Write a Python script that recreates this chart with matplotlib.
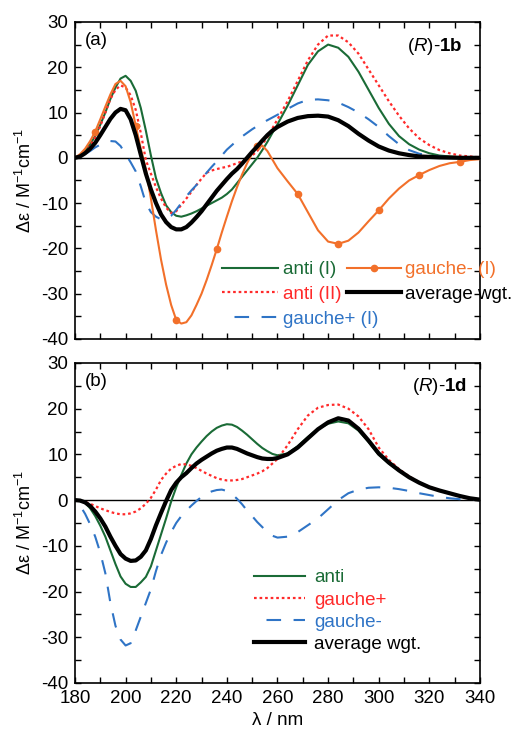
import numpy as np
import matplotlib
matplotlib.use("Agg")
import matplotlib.pyplot as plt
from matplotlib.ticker import MultipleLocator

plt.rcParams['font.family'] = ['Liberation Sans', 'DejaVu Sans']
plt.rcParams['mathtext.fontset'] = 'custom'
plt.rcParams['mathtext.rm'] = 'Liberation Sans'
plt.rcParams['mathtext.it'] = 'Liberation Sans:italic'
plt.rcParams['mathtext.bf'] = 'Liberation Sans:bold'
plt.rcParams['axes.unicode_minus'] = False

# wavelength grid: 2 nm steps up to 258 nm, 4 nm steps from 260 to 340 nm
wavelength = list(range(180, 260, 2)) + list(range(260, 341, 4))

# ---- panel (a): (R)-1b ----
a_anti_I = [0, 0.5, 1.5, 3, 4.8, 7.3, 10, 13, 15.5, 17.5, 18.1, 17, 14.8, 11, 6, 0.5,
            -4.5, -7.8, -10.5, -12, -12.8, -13, -12.7, -12.3, -11.8, -11.2, -10.6, -10,
            -9.4, -8.8, -8, -7, -5.6, -4.2, -2.8, -1.4, 0, 1.7, 3.5, 5.5,
            7.4, 11.5, 16, 20.5, 23.5, 25, 24.3, 22.3, 19, 15, 11, 7.5, 4.8, 3, 1.8, 1.0,
            0.5, 0.3, 0.15, 0.05, 0]
a_anti_II = [0, 0.4, 1.2, 2.6, 4.5, 7, 10, 13, 15, 16, 15.5, 13.8, 10.6, 5.5, -0.5, -3.5,
             -6.5, -9, -11, -12.2, -11.8, -10.4, -9, -7.5, -6, -4.6, -3.3, -2.8, -2.5,
             -2.2, -2, -1.6, -1.2, -0.8, -0.3, 0.5, 1.5, 3, 4.5, 6.5,
             8.5, 12.5, 17, 21.5, 25, 27, 27, 25.5, 23, 19.5, 16, 12.5, 9.3, 6.5, 4.3, 2.8,
             1.7, 1.0, 0.5, 0.3, 0.1]
a_gauche_plus = [0, 0.3, 0.8, 1.5, 2.3, 2.9, 3.4, 3.7, 3.6, 2.6, 0.8, -1, -3, -6.3, -10,
                 -12, -13, -13.6, -13.5, -12.8, -11.5, -10, -8.5, -7.2, -6, -4.6, -3.3, -2,
                 -0.8, 0.5, 1.8, 2.8, 3.8, 4.7, 5.5, 6.3, 7, 7.7, 8.3, 8.9,
                 9.5, 10.8, 12, 12.8, 12.9, 12.7, 12.2, 11.2, 10, 8.5, 6.8, 4.8, 3, 1.7, 0.9,
                 0.5, 0.3, 0.1, 0.05, 0, 0]
a_gauche_minus = [0, 0.8, 2, 3.7, 5.8, 8.5, 11.3, 14, 16.3, 17, 15.8, 12.3, 7.1, 2, -2.5,
                  -9, -16, -22.5, -28, -32.5, -35.8, -36.6, -36.3, -34.8, -32.5, -30, -27,
                  -23.7, -20.2, -16.5, -13, -9.6, -6.5, -3.7, -1.2, 1, 2.5, 2.7, 1.5, -0.4,
                  -2.3, -5.2, -8, -12, -16, -18.5, -19, -18.3, -16.5, -14, -11.6, -9, -6.8,
                  -5, -3.8, -2.7, -1.8, -1.2, -0.9, -0.5, -0.3]
a_marker_wl = [188, 204, 220, 236, 252, 268, 284, 300, 316, 332]
a_average = [0, 0.3, 1, 2, 3.3, 5, 6.8, 8.6, 10, 10.8, 10.5, 8.5, 5, 0.7, -3.5, -7, -10,
             -12.5, -14.2, -15.3, -15.8, -15.8, -15.3, -14.3, -13.1, -11.8, -10.3, -8.8,
             -7.3, -6, -4.7, -3.5, -2.5, -1.3, 0, 1.3, 2.5, 3.8, 5, 6,
             6.8, 8, 8.8, 9.2, 9.3, 9.1, 8.3, 7, 5.3, 3.8, 2.5, 1.6, 1.0, 0.6, 0.3, 0.2,
             0.1, 0.05, 0, 0, 0]

# ---- panel (b): (R)-1d ----
b_anti = [0, -0.2, -0.6, -1.8, -3.5, -5.6, -8, -11, -14, -16.7, -18.3, -19, -19, -18,
          -16.8, -14.5, -11, -7.5, -4, -0.3, 2.8, 5.5, 8, 10, 11.5, 12.8, 14, 15, 15.8,
          16.3, 16.6, 16.5, 16, 15.2, 14.3, 13.3, 12.3, 11.4, 10.7, 10.1,
          9.8, 10.2, 11.8, 13.8, 15.6, 16.7, 17.2, 16.8, 15.2, 12.7, 9.9, 8.0, 6.4, 5,
          3.8, 2.8, 2.1, 1.5, 0.9, 0.4, 0.1]
b_gauche_plus = [0, -0.1, -0.4, -0.8, -1.3, -1.8, -2.2, -2.6, -2.9, -3.1, -3.1, -2.9,
                 -2.5, -1.8, -0.8, 0.5, 2.3, 4.4, 5.8, 6.9, 7.5, 7.9, 7.8, 7.5, 7, 6.4,
                 5.8, 5.3, 4.8, 4.5, 4.3, 4.3, 4.4, 4.6, 5, 5.4, 5.8, 6.3, 7, 8,
                 9, 12, 15.5, 18.5, 20.2, 20.8, 20.9, 20, 18.3, 15.5, 11.5, 8.8, 6.8, 5.2,
                 3.9, 2.9, 2.1, 1.5, 0.9, 0.4, 0.1]
b_gauche_minus = [0, -1.2, -3, -5.3, -8, -11.5, -16, -22.5, -27.5, -30.5, -31.8, -31.3,
                  -28.5, -25.5, -22.5, -19.5, -15.5, -12, -9.3, -7, -5, -3.5, -2.3, -1.2,
                  -0.2, 0.7, 1.4, 1.9, 2.2, 2.3, 2, 1.3, 0.3, -0.9, -2.3, -3.5, -4.8, -5.9,
                  -7, -7.8,
                  -8.2, -8, -7, -5.5, -4, -2, 0, 1.5, 2.3, 2.7, 2.8, 2.7, 2.4, 2, 1.5, 1.1,
                  0.7, 0.4, 0.2, 0.1, 0]
b_average = [0, -0.1, -0.5, -1.3, -2.5, -4, -5.8, -8, -10, -11.8, -12.8, -13.3, -13.2,
             -12.4, -11, -8.5, -5.5, -2.8, -0.2, 2.2, 3.8, 5, 5.9, 7, 8, 8.8, 9.5, 10.2,
             10.8, 11.2, 11.5, 11.5, 11.2, 10.7, 10.2, 9.8, 9.4, 9.1, 9.0, 9.0,
             9.2, 10, 11.5, 13.5, 15.5, 17, 17.9, 17.4, 15.6, 13, 10.2, 8.2, 6.5, 5, 3.8,
             2.8, 2.1, 1.5, 0.9, 0.4, 0.1]

xticks = [180, 200, 220, 240, 260, 280, 300, 320, 340]
yticks = [30, 20, 10, 0, -10, -20, -30, -40]

GREEN = '#1a6b36'
RED = '#ff2a2a'
BLUE = '#2f74c6'
ORANGE = '#f2702a'
BLACK = '#000000'

FS = 13.5
DASH = (7, (7, 6))
DOT = (0, (1.2, 1.3))

fig = plt.figure(figsize=(5.16, 7.31), dpi=100)
ax1 = fig.add_axes([0.1453, 0.5363, 0.7849, 0.4337])
ax2 = fig.add_axes([0.1453, 0.0657, 0.7849, 0.4378])

for ax in (ax1, ax2):
    ax.set_xlim(180, 340)
    ax.set_ylim(-40, 30)
    ax.set_xticks(xticks)
    ax.set_yticks(yticks)
    ax.set_yticklabels([str(v) for v in yticks])
    ax.xaxis.set_minor_locator(MultipleLocator(10))
    ax.yaxis.set_minor_locator(MultipleLocator(5))
    ax.tick_params(which='both', direction='in', top=True, right=True,
                   length=4, width=1.0, labelsize=FS, pad=5)
    for s in ax.spines.values():
        s.set_linewidth(1.2)
    ax.axhline(0, color='black', lw=1.0, zorder=1)
    ax.set_ylabel('Δε / M$^{-1}$cm$^{-1}$', fontsize=FS - 0.5, labelpad=4)

ax1.tick_params(labelbottom=False)
ax2.set_xlabel('λ / nm', fontsize=FS, labelpad=4)

# panel (a)
marker_idx = [wavelength.index(w) for w in a_marker_wl]
l1, = ax1.plot(wavelength, a_anti_I, color=GREEN, lw=1.5, label='anti (I)', zorder=3)
l2, = ax1.plot(wavelength, a_anti_II, color=RED, lw=1.6, ls=DOT, label='anti (II)', zorder=3)
l3, = ax1.plot(wavelength, a_gauche_plus, color=BLUE, lw=1.5, ls=DASH, label='gauche+ (I)', zorder=3)
l4, = ax1.plot(wavelength, a_gauche_minus, color=ORANGE, lw=1.5, marker='o', ms=4.5,
               markevery=marker_idx, label='gauche- (I)', zorder=3)
l5, = ax1.plot(wavelength, a_average, color=BLACK, lw=3.0, label='average wgt.', zorder=4)

leg_a1 = ax1.legend(handles=[l1, l2, l3], loc='upper left', bbox_to_anchor=(0.362, 0.246),
                    frameon=False, fontsize=FS, handlelength=3.0, handletextpad=0.25,
                    labelspacing=0.41, borderpad=0, borderaxespad=0, labelcolor='linecolor',
                    numpoints=1)
ax1.add_artist(leg_a1)
ax1.legend(handles=[l4, l5], loc='upper left', bbox_to_anchor=(0.672, 0.246),
           frameon=False, fontsize=FS, handlelength=2.85, handletextpad=0.25,
           labelspacing=0.41, borderpad=0, borderaxespad=0, labelcolor='linecolor',
           numpoints=1)

ax1.text(0.025, 0.943, '(a)', transform=ax1.transAxes, fontsize=FS, ha='left', va='center')
ax1.text(0.956, 0.921, r'($\mathit{R}$)-$\mathbf{1b}$', transform=ax1.transAxes,
         fontsize=FS, ha='right', va='center')

# panel (b)
m1, = ax2.plot(wavelength, b_anti, color=GREEN, lw=1.5, label='anti', zorder=3)
m2, = ax2.plot(wavelength, b_gauche_plus, color=RED, lw=1.6, ls=DOT, label='gauche+', zorder=3)
m3, = ax2.plot(wavelength, b_gauche_minus, color=BLUE, lw=1.5, ls=DASH, label='gauche-', zorder=3)
m4, = ax2.plot(wavelength, b_average, color=BLACK, lw=3.0, label='average wgt.', zorder=4)

ax2.legend(handles=[m1, m2, m3, m4], loc='upper left', bbox_to_anchor=(0.443, 0.355),
           frameon=False, fontsize=FS, handlelength=2.7, handletextpad=0.5,
           labelspacing=0.27, borderpad=0, borderaxespad=0, labelcolor='linecolor')

ax2.text(0.025, 0.941, '(b)', transform=ax2.transAxes, fontsize=FS, ha='left', va='center')
ax2.text(0.968, 0.925, r'($\mathit{R}$)-$\mathbf{1d}$', transform=ax2.transAxes,
         fontsize=FS, ha='right', va='center')

fig.savefig('out.png', dpi=100)
